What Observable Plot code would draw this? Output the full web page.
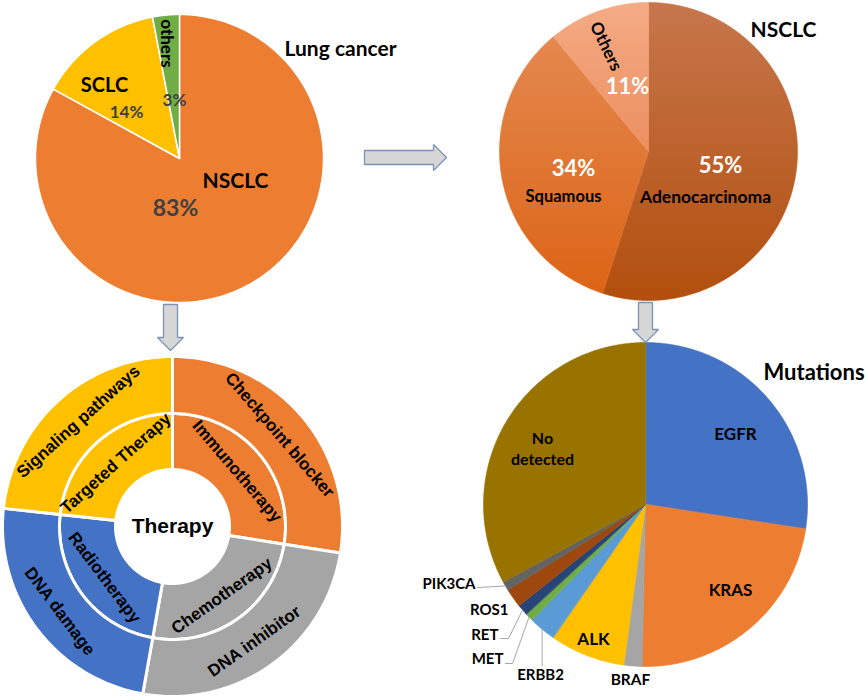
<!DOCTYPE html>
<html>
<head>
<meta charset="utf-8">
<script src="https://cdn.jsdelivr.net/npm/d3@7"></script>
<script src="https://cdn.jsdelivr.net/npm/@observablehq/plot@0.6"></script>
<style>
  body { margin: 0; background: #fff; }
  #chart svg { display: block; }
</style>
</head>
<body>
<div id="chart"></div>
<script>
// ---------------- DATA ----------------
const lungCategories = ["NSCLC", "SCLC", "others"];
const lungShares = [83, 14, 3];

const nsclcCategories = ["Adenocarcinoma", "Squamous", "Others"];
const nsclcShares = [55, 34, 11];

const therapyInner = ["Immunotherapy", "Chemotherapy", "Radiotherapy", "Targeted Therapy"];
const therapyOuter = ["Checkpoint blocker", "DNA inhibitor", "DNA damage", "Signaling pathways"];
const therapyShares = [27.5, 25.3, 23.9, 23.3];

const mutationCategories = ["EGFR", "KRAS", "BRAF", "ALK", "ERBB2", "MET", "RET", "ROS1", "PIK3CA", "No detected"];
const mutationShares = [27.4, 22.9, 1.8, 7.5, 2.7, 0.8, 1.1, 1.9, 0.9, 32.9];

const titles = ["Lung cancer", "NSCLC", "Therapy", "Mutations"];

// ---------------- STYLE ----------------
const lungColors = ["#ED7D31", "#FFC000", "#70AD47"];
const nsclcFills = ["url(#gAdeno)", "url(#gSquam)", "url(#gOth)"];
const nsclcGrad = [["#C7764C", "#B24F0E"], ["#E4884F", "#DC6416"], ["#F5AB85", "#EC8F60"]];
const therapyColors = ["#ED7D31", "#A5A5A5", "#4472C4", "#FFC000"];
const mutationColors = ["#4472C4", "#ED7D31", "#A5A5A5", "#FFC000", "#5B9BD5", "#70AD47", "#264478", "#9E480E", "#636363", "#997300"];

// ---------------- LAYOUT ----------------
const W = 865, H = 699;
const L = {
  lung: { cx: 179, cy: 158, r: 144 },
  nsclc: { cx: 648, cy: 151, r: 149 },
  therapy: { cx: 172, cy: 526, r0: 57, r1: 113, r2: 170 },
  mut: { cx: 645, cy: 504, r: 162 }
};
const arrows = [
  { x0: 364, y0: 157, x1: 446, y1: 157 },
  { x0: 170, y0: 304, x1: 170, y1: 350 },
  { x0: 645, y0: 302, x1: 645, y1: 342 }
];

// ---------------- GEOMETRY HELPERS ----------------
const pie = d3.pie().sort(null).value(d => d);
const toDeg = a => a * 180 / Math.PI;
function pt(cx, cy, r, deg) {
  const a = deg * Math.PI / 180;
  return [cx + r * Math.sin(a), cy - r * Math.cos(a)];
}
function sector(cx, cy, rIn, rOut, a0, a1) {
  const n = Math.max(2, Math.ceil(Math.abs(a1 - a0)));
  const pts = [];
  for (let i = 0; i <= n; i++) pts.push(pt(cx, cy, rOut, a0 + (a1 - a0) * i / n));
  if (rIn > 0) for (let i = n; i >= 0; i--) pts.push(pt(cx, cy, rIn, a0 + (a1 - a0) * i / n));
  else pts.push([cx, cy]);
  return pts;
}
function ringRows(key, values, fills, cx, cy, rIn, rOut) {
  const rows = [];
  pie(values).forEach((a, i) => {
    sector(cx, cy, rIn, rOut, toDeg(a.startAngle), toDeg(a.endAngle))
      .forEach(([x, y]) => rows.push({ id: key + i, x, y, fill: fills[i] }));
  });
  return rows;
}
function midAngles(values) {
  return pie(values).map(a => toDeg((a.startAngle + a.endAngle) / 2));
}
function arrowPoly(a, i) {
  const sw = 7, hw = 13, hl = 13;
  const len = Math.hypot(a.x1 - a.x0, a.y1 - a.y0);
  const ux = (a.x1 - a.x0) / len, uy = (a.y1 - a.y0) / len, nx = -uy, ny = ux;
  const bx = a.x1 - ux * hl, by = a.y1 - uy * hl;
  return [
    [a.x0 + nx * sw, a.y0 + ny * sw], [bx + nx * sw, by + ny * sw], [bx + nx * hw, by + ny * hw],
    [a.x1, a.y1], [bx - nx * hw, by - ny * hw], [bx - nx * sw, by - ny * sw], [a.x0 - nx * sw, a.y0 - ny * sw]
  ].map(([x, y]) => ({ id: "arrow" + i, x, y }));
}

// ---------------- SLICES ----------------
const lungPolys = ringRows("lung", lungShares, lungColors, L.lung.cx, L.lung.cy, 0, L.lung.r);
const nsclcPolys = ringRows("nsclc", nsclcShares, nsclcFills, L.nsclc.cx, L.nsclc.cy, 0, L.nsclc.r);
const therapyPolys = [
  ...ringRows("tin", therapyShares, therapyColors, L.therapy.cx, L.therapy.cy, L.therapy.r0, L.therapy.r1),
  ...ringRows("tout", therapyShares, therapyColors, L.therapy.cx, L.therapy.cy, L.therapy.r1, L.therapy.r2)
];
const mutPolys = ringRows("mut", mutationShares, mutationColors, L.mut.cx, L.mut.cy, 0, L.mut.r);
const arrowPolys = arrows.flatMap(arrowPoly);

// ---------------- LABELS (Calibri-like) ----------------
const lab = [];
function addLab(c, text, dx, dy, size, color = "#000", rotate = 0, anchor = "middle") {
  lab.push({ text, x: c.cx + dx, y: c.cy + dy, size, color, rotate, anchor });
}
// Lung cancer pie
addLab(L.lung, titles[0], 161, -112, 21);
addLab(L.lung, lungCategories[0], 56, 20, 21);
addLab(L.lung, lungShares[0] + "%", -4, 48, 23, "#404040");
addLab(L.lung, lungCategories[1], -75, -75, 20);
addLab(L.lung, lungShares[1] + "%", -53, -48, 17, "#404040");
addLab(L.lung, lungCategories[2], -11, -115, 17, "#000", 90);
addLab(L.lung, lungShares[2] + "%", -5, -60, 17, "#404040");
// NSCLC pie
addLab(L.nsclc, titles[1], 135, -124, 21);
addLab(L.nsclc, nsclcCategories[2], -41, -106, 17, "#000", 64);
addLab(L.nsclc, nsclcShares[2] + "%", -21, -67, 22, "#fff");
addLab(L.nsclc, nsclcShares[1] + "%", -75, 15, 22, "#fff");
addLab(L.nsclc, nsclcShares[0] + "%", 72, 12, 22, "#fff");
addLab(L.nsclc, nsclcCategories[1], -85, 43, 16.5);
addLab(L.nsclc, nsclcCategories[0], 57, 44, 17.5);
// Mutations pie
addLab(L.mut, titles[3], 118, -134, 22, "#000", 0, "start");
addLab(L.mut, mutationCategories[0], 90, -72, 17);
addLab(L.mut, mutationCategories[1], 85, 84, 17);
addLab(L.mut, mutationCategories[3], -52, 133, 17);
addLab(L.mut, mutationCategories[2], -15, 174, 15.5);
addLab(L.mut, mutationCategories[9].replace(" ", "\n"), -103, -57, 16);
addLab(L.mut, mutationCategories[8], -170, 78, 15, "#000", 0, "end");
addLab(L.mut, mutationCategories[7], -137, 104, 15, "#000", 0, "end");
addLab(L.mut, mutationCategories[6], -147, 129, 15, "#000", 0, "end");
addLab(L.mut, mutationCategories[5], -142, 153, 15, "#000", 0, "end");
addLab(L.mut, mutationCategories[4], -105, 169, 15);

// leader lines for small mutation slices
const mutMid = midAngles(mutationShares);
const leaderSpecs = [
  { i: 8, start: [-168, 83] },
  { i: 6, start: [-145, 134], elbow: [-137, 134] },
  { i: 5, start: [-140, 159], elbow: [-133, 159] },
  { i: 4, vertical: 161 }
];
const leaders = [];
leaderSpecs.forEach((s, k) => {
  const edge = pt(L.mut.cx, L.mut.cy, L.mut.r, mutMid[s.i]);
  const pts = [];
  if (s.vertical !== undefined) pts.push([edge[0], L.mut.cy + s.vertical]);
  else {
    pts.push([L.mut.cx + s.start[0], L.mut.cy + s.start[1]]);
    if (s.elbow) pts.push([L.mut.cx + s.elbow[0], L.mut.cy + s.elbow[1]]);
  }
  pts.push(edge);
  pts.forEach(([x, y]) => leaders.push({ id: "lead" + k, x, y }));
});

// ---------------- THERAPY RING LABELS ----------------
const tMid = midAngles(therapyShares);
const ringLabels = [
  ...therapyInner.map((t, i) => ({ text: t, mid: tMid[i], r: 85 })),
  ...therapyOuter.map((t, i) => ({ text: t, mid: tMid[i], r: 141 }))
].map(d => {
  const [x, y] = pt(L.therapy.cx, L.therapy.cy, d.r, d.mid);
  const cw = !(d.mid > 90 && d.mid < 270);
  return { ...d, x, y, rotate: cw ? d.mid : d.mid - 180, cw };
});

// ---------------- PLOT ----------------
const latoText = (anchor) => Plot.text(lab.filter(d => d.anchor === anchor), {
  x: "x", y: "y", text: "text", fill: d => d.color, fontSize: d => d.size,
  rotate: d => d.rotate, textAnchor: anchor, fontWeight: "bold",
  fontFamily: "Lato, 'Open Sans', sans-serif", lineHeight: 1.35
});

const plot = Plot.plot({
  width: W, height: H, margin: 0,
  x: { domain: [0, W], range: [0, W], axis: null },
  y: { domain: [0, H], range: [0, H], axis: null },
  color: { type: "identity" },
  style: { background: "white", overflow: "visible" },
  marks: [
    Plot.line(lungPolys, { x: "x", y: "y", z: "id", fill: "fill", stroke: "white", strokeWidth: 1.5, curve: "linear-closed" }),
    Plot.line(nsclcPolys, { x: "x", y: "y", z: "id", fill: "fill", stroke: "fill", strokeWidth: 0.6, curve: "linear-closed" }),
    Plot.line(therapyPolys, { x: "x", y: "y", z: "id", fill: "fill", stroke: "white", strokeWidth: 3, curve: "linear-closed" }),
    Plot.line(mutPolys, { x: "x", y: "y", z: "id", fill: "fill", stroke: "fill", strokeWidth: 0.6, curve: "linear-closed" }),
    Plot.line(arrowPolys, { x: "x", y: "y", z: "id", fill: "#D6D6D6", stroke: "#7E92B5", strokeWidth: 1.3, strokeLinejoin: "miter", curve: "linear-closed" }),
    Plot.line(leaders, { x: "x", y: "y", z: "id", stroke: "#A6A6A6", strokeWidth: 1 }),
    latoText("middle"),
    latoText("start"),
    latoText("end"),
    Plot.text([titles[2]], { x: () => L.therapy.cx, y: () => L.therapy.cy, text: d => d, fontSize: 21, fontWeight: "bold", fontFamily: "'Liberation Sans', Arial, sans-serif", fill: "#000" }),
    Plot.text(ringLabels, { x: "x", y: "y", text: "text", rotate: "rotate", fontSize: 17, fontWeight: "bold", fontFamily: "'Liberation Sans', Arial, sans-serif", fill: "#000", ariaLabel: "ring labels" })
  ]
});

// gradients + curved ring labels
const ns = "http://www.w3.org/2000/svg";
const defs = document.createElementNS(ns, "defs");
plot.insertBefore(defs, plot.firstChild);
["gAdeno", "gSquam", "gOth"].forEach((id, i) => {
  const g = document.createElementNS(ns, "linearGradient");
  g.setAttribute("id", id);
  g.setAttribute("x1", 0); g.setAttribute("y1", 0); g.setAttribute("x2", 0); g.setAttribute("y2", 1);
  nsclcGrad[i].forEach((c, k) => {
    const s = document.createElementNS(ns, "stop");
    s.setAttribute("offset", k); s.setAttribute("stop-color", c);
    g.appendChild(s);
  });
  defs.appendChild(g);
});
const sx = plot.scale("x"), sy = plot.scale("y");
const ringG = plot.querySelector('g[aria-label="ring labels"]');
if (ringG) {
  ringG.querySelectorAll("text").forEach((t, i) => {
    const d = ringLabels[i];
    const span = 80;
    const a0 = d.cw ? d.mid - span : d.mid + span;
    const a1 = d.cw ? d.mid + span : d.mid - span;
    const p0 = pt(L.therapy.cx, L.therapy.cy, d.r, a0), p1 = pt(L.therapy.cx, L.therapy.cy, d.r, a1);
    const path = document.createElementNS(ns, "path");
    path.setAttribute("id", "ringpath" + i);
    path.setAttribute("d", `M${sx.apply(p0[0])},${sy.apply(p0[1])}A${d.r},${d.r} 0 0 ${d.cw ? 1 : 0} ${sx.apply(p1[0])},${sy.apply(p1[1])}`);
    path.setAttribute("fill", "none");
    defs.appendChild(path);
    const label = t.textContent;
    t.textContent = "";
    ["transform", "x", "y", "dy"].forEach(a => t.removeAttribute(a));
    t.setAttribute("dominant-baseline", "central");
    t.setAttribute("text-anchor", "middle");
    const tp = document.createElementNS(ns, "textPath");
    tp.setAttribute("href", "#ringpath" + i);
    tp.setAttribute("startOffset", "50%");
    tp.textContent = label;
    t.appendChild(tp);
  });
}

document.getElementById("chart").appendChild(plot);
</script>
</body>
</html>
